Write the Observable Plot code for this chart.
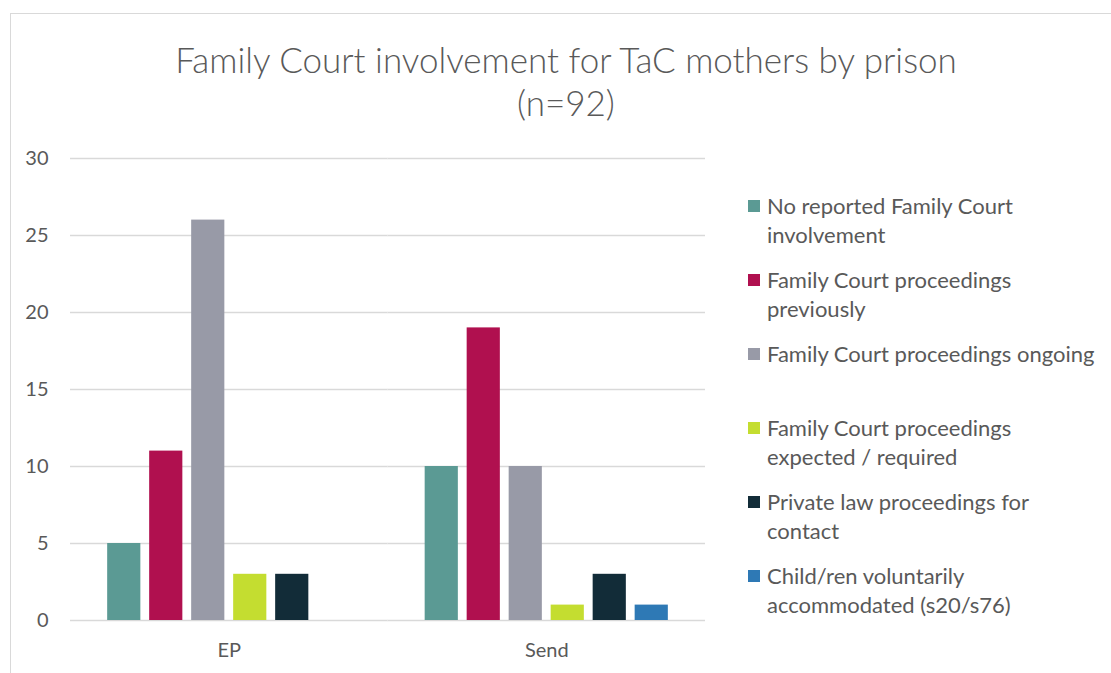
<!DOCTYPE html>
<html>
<head>
<meta charset="utf-8">
<script src="https://cdn.jsdelivr.net/npm/d3@7"></script>
<script src="https://cdn.jsdelivr.net/npm/@observablehq/plot@0.6"></script>
<style>
  html, body { margin: 0; padding: 0; background: #fff; }
  #wrap { position: relative; width: 1111px; height: 673px; overflow: hidden; font-family: Lato, "Open Sans", sans-serif; color: #595959; }
  #frame { position: absolute; left: 10px; top: 13px; width: 1200px; height: 800px; border: 1px solid #d9d9d9; box-sizing: border-box; }
  #title { position: absolute; left: 0; width: 1132px; top: 38px; text-align: center; font-size: 35px; font-weight: 300; line-height: 43px; color: #595959; }
  #chart { position: absolute; left: 0; top: 0; }
  #legend { position: absolute; left: 748px; top: 191px; }
  .item { height: 74px; position: relative; }
  .sw { position: absolute; left: 0; top: 9px; width: 12px; height: 12px; }
  .lab { position: absolute; left: 19px; top: 0; font-size: 22px; line-height: 29px; white-space: nowrap; color: #595959; }
</style>
</head>
<body>
<div id="wrap">
  <div id="frame"></div>
  <div id="chart"></div>
  <div id="title">Family Court involvement for TaC mothers by prison<br>(n=92)</div>
  <div id="legend"></div>
</div>
<script>
const prisons = ["EP", "Send"];
const series = [
  "No reported Family Court involvement",
  "Family Court proceedings previously",
  "Family Court proceedings ongoing",
  "Family Court proceedings expected / required",
  "Private law proceedings for contact",
  "Child/ren voluntarily accommodated (s20/s76)"
];
const legendLines = [
  ["No reported Family Court", "involvement"],
  ["Family Court proceedings", "previously"],
  ["Family Court proceedings ongoing"],
  ["Family Court proceedings", "expected / required"],
  ["Private law proceedings for", "contact"],
  ["Child/ren voluntarily", "accommodated (s20/s76)"]
];
const epValues = [5, 11, 26, 3, 3, 0];
const sendValues = [10, 19, 10, 1, 3, 1];
const colors = ["#5b9a94", "#b0104f", "#989aa7", "#c4dd30", "#122c38", "#2e79b5"];
const yTicks = [0, 5, 10, 15, 20, 25, 30];

const data = [];
series.forEach((s, i) => {
  data.push({prison: "EP", series: s, value: epValues[i]});
  data.push({prison: "Send", series: s, value: sendValues[i]});
});

const chart = Plot.plot({
  width: 720,
  height: 673,
  marginTop: 158,
  marginBottom: 53,
  marginLeft: 70,
  marginRight: 15,
  style: {background: "transparent", fontFamily: "Lato, 'Open Sans', sans-serif", fontSize: "20px", color: "#595959"},
  fx: {domain: prisons, padding: 0, round: false, label: null, axis: "bottom", tickSize: 0, tickPadding: 22},
  x: {domain: series, axis: null, round: false, paddingInner: 0.21, paddingOuter: 0.885},
  y: {domain: [0, 30], ticks: yTicks, tickSize: 0, tickPadding: 22, label: null},
  color: {domain: series, range: colors},
  marks: [
    Plot.ruleY(yTicks, {stroke: "#d9d9d9", strokeWidth: 1.5}),
    Plot.barY(data, {fx: "prison", x: "series", y: "value", fill: "series"})
  ]
});
document.getElementById("chart").appendChild(chart);

const legend = document.getElementById("legend");
series.forEach((s, i) => {
  const item = document.createElement("div");
  item.className = "item";
  const sw = document.createElement("div");
  sw.className = "sw";
  sw.style.background = colors[i];
  const lab = document.createElement("div");
  lab.className = "lab";
  lab.innerHTML = legendLines[i].join("<br>");
  item.appendChild(sw);
  item.appendChild(lab);
  legend.appendChild(item);
});
</script>
</body>
</html>
